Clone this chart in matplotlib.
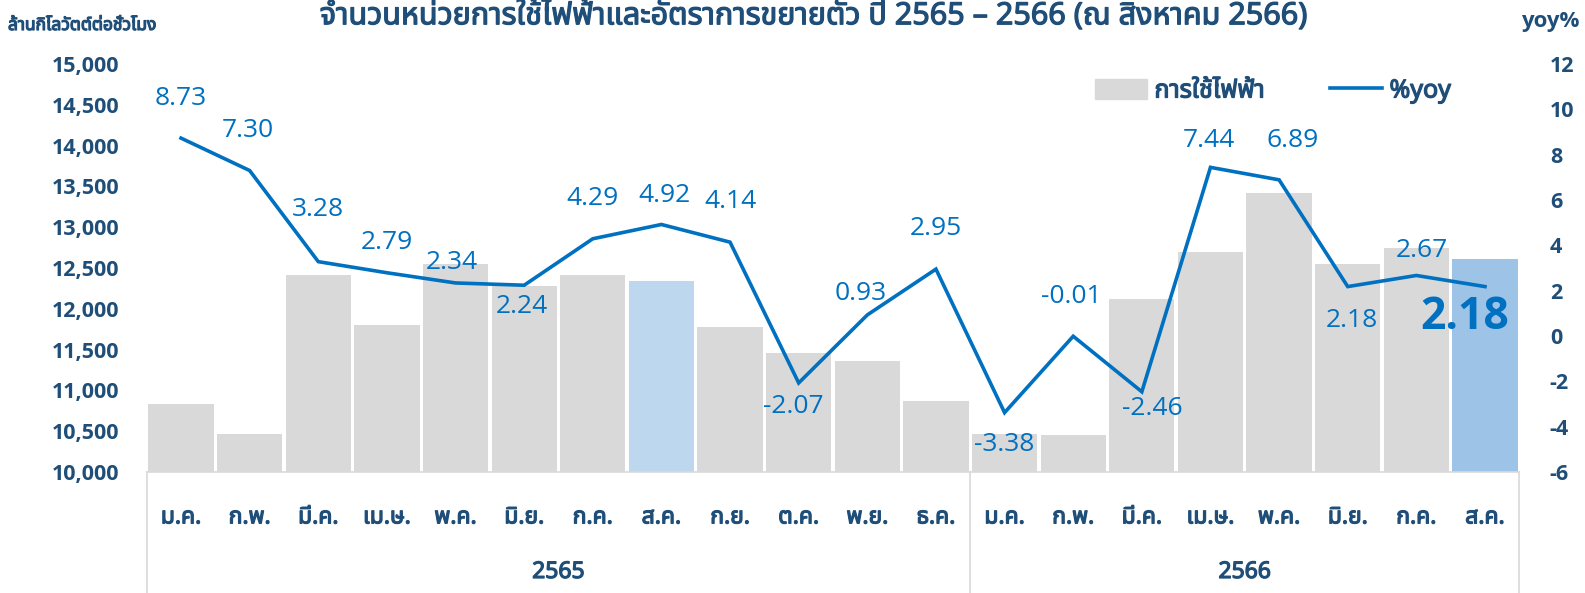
import matplotlib
matplotlib.use("Agg")
import matplotlib.pyplot as plt
from matplotlib import font_manager
from matplotlib.ft2font import FT2Font
from matplotlib.patches import Patch
from matplotlib.lines import Line2D
import matplotlib.patheffects as pe
import matplotlib.transforms as mtransforms

# data
months = ['ม.ค.', 'ก.พ.', 'มี.ค.', 'เม.ษ.', 'พ.ค.', 'มิ.ย.', 'ก.ค.', 'ส.ค.', 'ก.ย.', 'ต.ค.', 'พ.ย.', 'ธ.ค.',
          'ม.ค.', 'ก.พ.', 'มี.ค.', 'เม.ษ.', 'พ.ค.', 'มิ.ย.', 'ก.ค.', 'ส.ค.']
years = ['2565', '2566']
months_per_year = [12, 8]
usage = [10830, 10460, 12420, 11800, 12550, 12275, 12415, 12340, 11775, 11455, 11355, 10870,
         10465, 10455, 12115, 12690, 13415, 12545, 12740, 12605]
yoy = [8.73, 7.30, 3.28, 2.79, 2.34, 2.24, 4.29, 4.92, 4.14, -2.07, 0.93, 2.95,
       -3.38, -0.01, -2.46, 7.44, 6.89, 2.18, 2.67, 2.18]

# label offsets from each point, in pixels (dx, dy up)
label_off = [(0, 40), (-2, 40), (0, 52), (0, 30), (-4, 20), (-2, -21), (0, 40), (3, 29), (0, 41),
             (-5, -24), (-7, 21), (0, 41), (0, -32), (-2, 40), (10, -17), (-2, 27), (14, 39),
             (4, -34), (6, 25), (-20, -31)]

NAVY = '#1F4E79'
BLUE = '#0070C0'
GRAY = '#D9D9D9'


def find_thai_font():
    found = []
    for f in font_manager.fontManager.ttflist:
        try:
            if FT2Font(f.fname).get_char_index(0x0E01):
                found.append(f.name)
        except Exception:
            pass
    for pref in ['Noto Sans Thai', 'Noto Sans Thai UI', 'Loma', 'Garuda', 'Tlwg Typo', 'Kinnari']:
        if pref in found:
            return pref
    return found[0] if found else 'DejaVu Sans'


thai = find_thai_font()
fam = ['Open Sans', thai, 'DejaVu Sans']
fam_thai = [thai, 'Open Sans', 'DejaVu Sans']
plt.rcParams['font.family'] = fam
plt.rcParams['axes.unicode_minus'] = False

# the thai face has no bold weight here, so thicken it with a stroke
fake_bold = [pe.withStroke(linewidth=0.9, foreground=NAVY)]

fig = plt.figure(figsize=(15.85, 5.93), dpi=100)
ax = fig.add_axes([146.7 / 1585, 1 - 472 / 593, (1519.3 - 146.7) / 1585, (472 - 64) / 593])
ax2 = ax.twinx()

x = list(range(len(usage)))
colors = [GRAY] * len(usage)
colors[7] = '#BDD7EE'
colors[19] = '#9DC3E6'
ax.bar(x, [u - 10000 for u in usage], bottom=10000, width=0.95, color=colors)
ax.set_ylim(10000, 15000)
ax.set_xlim(-0.5, len(usage) - 0.5)
ax.set_yticks(range(10000, 15001, 500))
ax.set_yticklabels([f'{v:,}' for v in range(10000, 15001, 500)])

ax2.plot(x, yoy, color=BLUE, lw=2.6, solid_joinstyle='miter')
ax2.set_ylim(-6, 12)
ax2.set_yticks(range(-6, 13, 2))

for a in (ax, ax2):
    for s in a.spines.values():
        s.set_visible(False)
    a.tick_params(length=0)
ax.spines['bottom'].set_visible(True)
ax.spines['bottom'].set_color(GRAY)
ax.spines['bottom'].set_linewidth(1.2)

for lab in ax.get_yticklabels():
    lab.set_fontweight('bold')
    lab.set_color(NAVY)
    lab.set_fontsize(15.5)
ax.tick_params(axis='y', pad=20)
for lab in ax2.get_yticklabels():
    lab.set_fontweight('bold')
    lab.set_color(NAVY)
    lab.set_fontsize(15.5)
ax2.tick_params(axis='y', pad=22)

ax.set_xticks(x)
ax.set_xticklabels(months, family=fam_thai, fontsize=16.5, color=NAVY)
for lab in ax.get_xticklabels():
    lab.set_path_effects(fake_bold)
ax.tick_params(axis='x', pad=24)

# year groups and separators under the axis
trans = mtransforms.blended_transform_factory(ax.transData, ax.transAxes)
start = -0.5
bottom_frac = -(593 - 472) / 408
ax.plot([start, start], [0, bottom_frac], transform=trans, color=GRAY, lw=1.2, clip_on=False)
for yr, n in zip(years, months_per_year):
    ax.text(start + n / 2, -(572 - 472) / 408, yr, transform=trans, ha='center', va='center',
            family=fam_thai, fontsize=16.5, color=NAVY, path_effects=fake_bold)
    start += n
    ax.plot([start, start], [0, bottom_frac], transform=trans, color=GRAY, lw=1.2, clip_on=False)

# data labels on the line
for i, (v, (dx, dy)) in enumerate(zip(yoy, label_off)):
    last = i == len(yoy) - 1
    ax2.annotate(f'{v:.2f}', (i, v), xytext=(dx * 0.72, dy * 0.72), textcoords='offset points',
                 ha='center', va='center', color=BLUE,
                 fontsize=32 if last else 19, fontweight='bold' if last else 'normal')

# titles
fig.text(0.5136, 1 - 1 / 593, 'จำนวนหน่วยการใช้ไฟฟ้าและอัตราการขยายตัว ปี 2565 – 2566 (ณ สิงหาคม 2566)',
         ha='center', va='top', fontsize=22, color=NAVY, family=fam_thai, path_effects=fake_bold)
fig.text(8 / 1585, 1 - 25 / 593, 'ล้านกิโลวัตต์ต่อชั่วโมง', ha='left', va='center',
         fontsize=12.5, color=NAVY, family=fam_thai, path_effects=fake_bold)
fig.text(1579 / 1585, 1 - 22 / 593, 'yoy%', ha='right', va='center',
         fontsize=16, fontweight='bold', color=NAVY)

handles = [Patch(color=GRAY), Line2D([], [], color=BLUE, lw=2.6)]
leg = fig.legend(handles, ['การใช้ไฟฟ้า', '%yoy'], loc='center left', ncol=2, frameon=False,
                 bbox_to_anchor=(1072 / 1585, 1 - 91 / 593), handlelength=2.1, handleheight=0.85,
                 handletextpad=0.3, columnspacing=2.6, prop={'family': fam_thai, 'size': 18})
for t in leg.get_texts():
    t.set_color(NAVY)
    t.set_path_effects(fake_bold)

fig.savefig('out.png', dpi=100)
